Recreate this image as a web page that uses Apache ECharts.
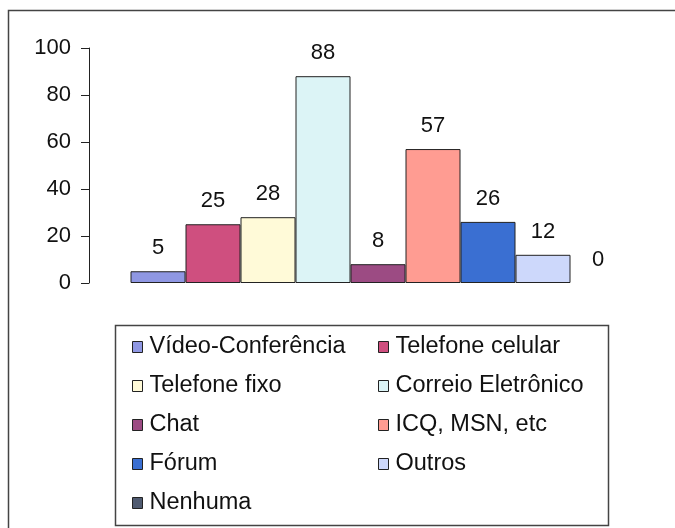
<!DOCTYPE html>
<html>
<head>
<meta charset="utf-8">
<script src="https://cdn.jsdelivr.net/npm/echarts@6/dist/echarts.min.js"></script>
<style>
  html, body { margin: 0; padding: 0; background: #fff; }
  #chart { width: 675px; height: 528px; }
</style>
</head>
<body>
<div id="chart"></div>
<script>
const seriesNames = [
  'Vídeo-Conferência', 'Telefone celular', 'Telefone fixo', 'Correio Eletrônico',
  'Chat', 'ICQ, MSN, etc', 'Fórum', 'Outros', 'Nenhuma'
]
const seriesValues = [5, 25, 28, 88, 8, 57, 26, 12, 0]
const seriesColors = [
  '#8f97e3', '#cf4f7f', '#fffad8', '#dcf4f6',
  '#9c4b83', '#ff9c92', '#3a6fd2', '#cdd8fb', '#4f5a70'
]
const yTicks = { min: 0, max: 100, interval: 20 }

const font = 'Liberation Sans, Arial, sans-serif'

// legend box has two columns: left column gets items 0,2,4.. right column 1,3,5..
const leftCol = seriesNames.filter((n, i) => i % 2 === 0)
const rightCol = seriesNames.filter((n, i) => i % 2 === 1)

function makeLegend(names, left) {
  return {
    data: names,
    orient: 'vertical',
    left: left,
    top: 335,
    padding: 0,
    itemWidth: 10,
    itemHeight: 11,
    itemGap: 15,
    icon: 'rect',
    selectedMode: false,
    itemStyle: { borderColor: '#222', borderWidth: 1 },
    textStyle: {
      fontFamily: font,
      fontSize: 23.5,
      lineHeight: 24,
      color: '#111',
      padding: [0, 0, 0, 2]
    }
  }
}

const chart = echarts.init(document.getElementById('chart'))

chart.setOption({
  animation: false,
  textStyle: { fontFamily: font },
  grid: {
    left: 89,
    right: 8,
    top: 48,
    bottom: 245
  },
  xAxis: {
    type: 'category',
    data: [''],
    axisLine: { show: false },
    axisTick: { show: false },
    axisLabel: { show: false }
  },
  yAxis: {
    type: 'value',
    min: yTicks.min,
    max: yTicks.max,
    interval: yTicks.interval,
    axisLine: { show: true, lineStyle: { color: '#222', width: 1 } },
    axisTick: { show: true, length: 8, lineStyle: { color: '#222' } },
    axisLabel: { fontSize: 22, color: '#111', margin: 18, fontFamily: font },
    splitLine: { show: false }
  },
  legend: [makeLegend(leftCol, 132), makeLegend(rightCol, 378)],
  graphic: [
    {
      type: 'rect',
      shape: { x: 8.5, y: 10.5, width: 700, height: 540 },
      style: { fill: 'none', stroke: '#444', lineWidth: 1.5 },
      silent: true
    },
    {
      type: 'rect',
      shape: { x: 115.5, y: 325.5, width: 493, height: 200 },
      style: { fill: 'none', stroke: '#444', lineWidth: 1.5 },
      silent: true
    }
  ],
  series: seriesNames.map((name, i) => ({
    name: name,
    type: 'bar',
    barWidth: 55,
    barGap: '0%',
    data: [seriesValues[i]],
    itemStyle: {
      color: seriesColors[i],
      borderColor: '#222',
      // a zero bar shows no outline in the original
      borderWidth: seriesValues[i] === 0 ? 0 : 1
    },
    label: {
      show: true,
      position: 'top',
      distance: 12,
      fontSize: 22,
      color: '#111',
      fontFamily: font
    }
  }))
})
</script>
</body>
</html>
